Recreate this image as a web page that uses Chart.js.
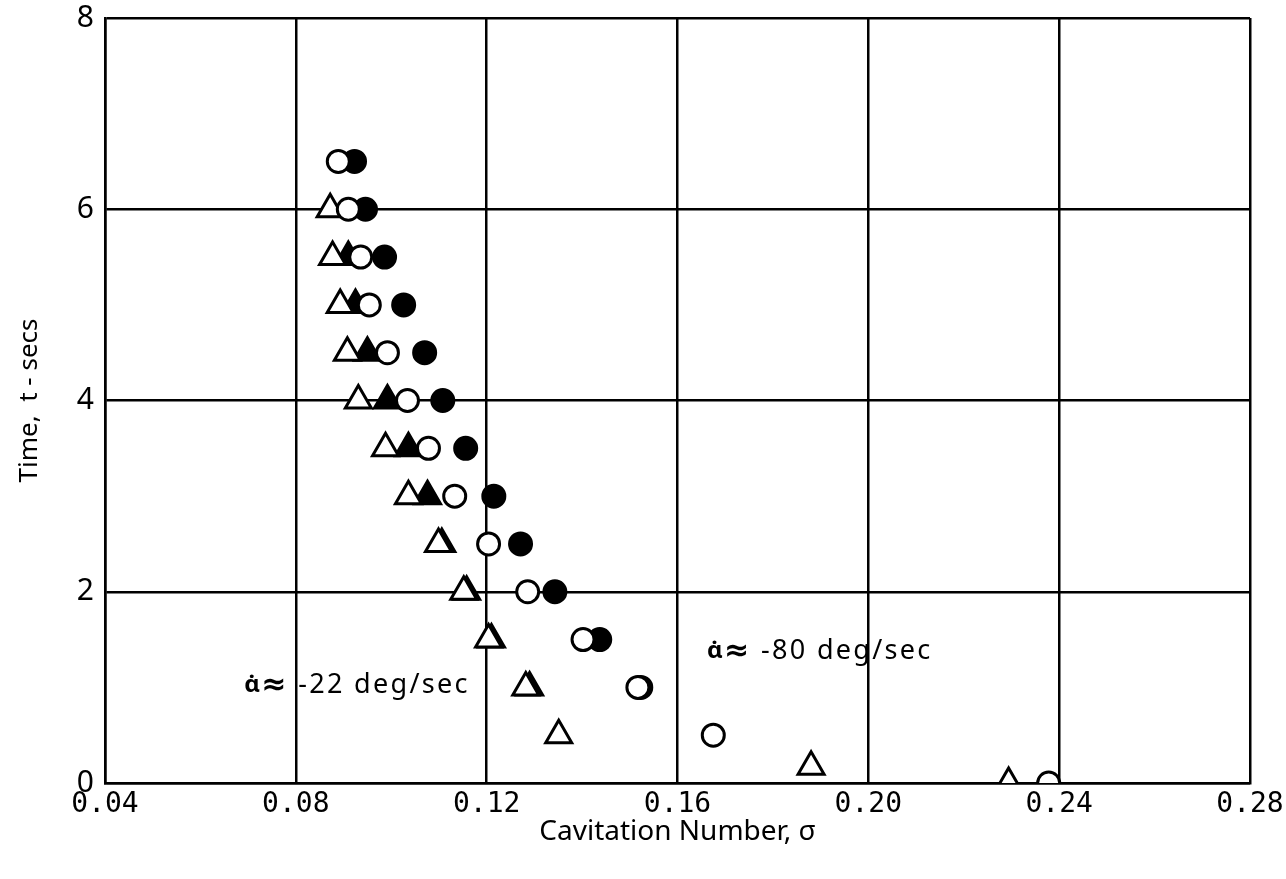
<!DOCTYPE html>
<html>
<head>
<meta charset="utf-8">
<script src="https://cdn.jsdelivr.net/npm/chart.js@4.4.1/dist/chart.umd.min.js"></script>
<style>
  html, body { margin: 0; padding: 0; background: #fff; }
  canvas { display: block; }
</style>
</head>
<body>
<canvas id="cavChart" width="1286" height="879"></canvas>
<script>
// cavitation number vs time, four runs
const openTriTime = [6, 5.5, 5, 4.5, 4, 3.5, 3, 2.5, 2, 1.5, 1, 0.5, 0.17, 0];
const openTriSigma = [0.0872, 0.0877, 0.0893, 0.0908, 0.0931, 0.0988, 0.1036, 0.1099, 0.1152, 0.1204, 0.1282, 0.1351, 0.1880, 0.2294];

const filledTriTime = [5.5, 5, 4.5, 4, 3.5, 3, 2.5, 2, 1.5, 1];
const filledTriSigma = [0.0910, 0.0925, 0.0950, 0.0992, 0.1036, 0.1076, 0.1106, 0.1158, 0.1210, 0.1290];

const openCircTime = [6.5, 6, 5.5, 5, 4.5, 4, 3.5, 3, 2.5, 2, 1.5, 1, 0.5, 0];
const openCircSigma = [0.0889, 0.0910, 0.0936, 0.0954, 0.0992, 0.1034, 0.1078, 0.1133, 0.1204, 0.1286, 0.1402, 0.1517, 0.1675, 0.2378];

const filledCircTime = [6.5, 6, 5.5, 5, 4.5, 4, 3.5, 3, 2.5, 2, 1.5, 1];
const filledCircSigma = [0.0923, 0.0946, 0.0986, 0.1026, 0.1070, 0.1108, 0.1156, 0.1215, 0.1271, 0.1343, 0.1437, 0.1523];

const xTicks = [0.04, 0.08, 0.12, 0.16, 0.20, 0.24, 0.28];
const xTickLabels = ['0.04', '0.08', '0.12', '0.16', '0.20', '0.24', '0.28'];
const yTicks = [0, 2, 4, 6, 8];

// rate labels: [sigma, time, text]
const rateNotes = [
  [0.0692, 1.02, '-22 deg/sec'],
  [0.1662, 1.38, '-80 deg/sec']
];

function pts(xs, ys) {
  return xs.map((x, i) => ({ x: x, y: ys[i] }));
}

// "alpha-dot ≈ value" notes next to each group of runs
const noteLabels = {
  id: 'noteLabels',
  afterDatasetsDraw(chart) {
    const { ctx, scales } = chart;
    ctx.save();
    ctx.fillStyle = '#000';
    ctx.textBaseline = 'middle';
    ctx.textAlign = 'left';
    rateNotes.forEach(n => {
      const x = scales.x.getPixelForValue(n[0]);
      const y = scales.y.getPixelForValue(n[1]);
      ctx.font = 'bold 24px "Noto Sans"';
      ctx.fillText('\u03B1\u0307', x, y);
      ctx.font = 'bold 30px "DejaVu Sans"';
      ctx.fillText('\u2248', x + 17, y + 1);
      ctx.font = '27px "Noto Sans"';
      ctx.letterSpacing = '2.3px';
      ctx.fillText(n[2], x + 54, y);
      ctx.letterSpacing = '0px';
    });
    ctx.restore();
  }
};

const mark = (label, data, style, filled, order) => ({
  label: label,
  data: data,
  pointStyle: style,
  pointRadius: style === 'triangle' ? 15 : 11,
  pointBorderWidth: 3,
  borderColor: '#000',
  pointBorderColor: '#000',
  pointBackgroundColor: filled ? '#000' : '#fff',
  showLine: false,
  order: order
});

new Chart(document.getElementById('cavChart').getContext('2d'), {
  type: 'scatter',
  data: {
    datasets: [
      mark('open triangle', pts(openTriSigma, openTriTime), 'triangle', false, 1),
      mark('filled triangle', pts(filledTriSigma, filledTriTime), 'triangle', true, 3),
      mark('open circle', pts(openCircSigma, openCircTime), 'circle', false, 0),
      mark('filled circle', pts(filledCircSigma, filledCircTime), 'circle', true, 2)
    ]
  },
  options: {
    responsive: false,
    animation: false,
    events: [],
    layout: { padding: { top: 17, right: 36, left: 0, bottom: 0 } },
    plugins: {
      legend: { display: false },
      tooltip: { enabled: false }
    },
    scales: {
      x: {
        type: 'linear',
        min: 0.04,
        max: 0.28,
        afterBuildTicks: s => { s.ticks = xTicks.map(v => ({ value: v })); },
        afterFit: s => { s.height = 96; s.paddingLeft = 0; s.paddingRight = 0; },
        grid: { color: '#000', lineWidth: 2.5, drawTicks: false },
        border: { color: '#000', width: 2.5 },
        ticks: {
          padding: 5,
          color: '#000',
          font: { family: '"DejaVu Sans Mono"', size: 28 },
          callback: (v, i) => xTickLabels[i]
        },
        title: {
          display: true,
          text: 'Cavitation Number, \u03C3',
          color: '#000',
          font: { family: '"Noto Sans"', size: 28 },
          padding: { top: 0, bottom: 30 }
        }
      },
      y: {
        type: 'linear',
        min: 0,
        max: 8,
        afterBuildTicks: s => { s.ticks = yTicks.map(v => ({ value: v })); },
        afterFit: s => { s.width = 105; s.paddingTop = 0; s.paddingBottom = 0; },
        grid: { color: '#000', lineWidth: 2.5, drawTicks: false },
        border: { color: '#000', width: 2.5 },
        ticks: {
          padding: 11,
          color: '#000',
          font: { family: '"Noto Sans"', size: 30 }
        },
        title: {
          display: true,
          text: 'Time,  t - secs',
          color: '#000',
          font: { family: '"Noto Sans"', size: 26 },
          padding: { top: 14, bottom: 0 }
        }
      }
    }
  },
  plugins: [noteLabels]
});
</script>
</body>
</html>
